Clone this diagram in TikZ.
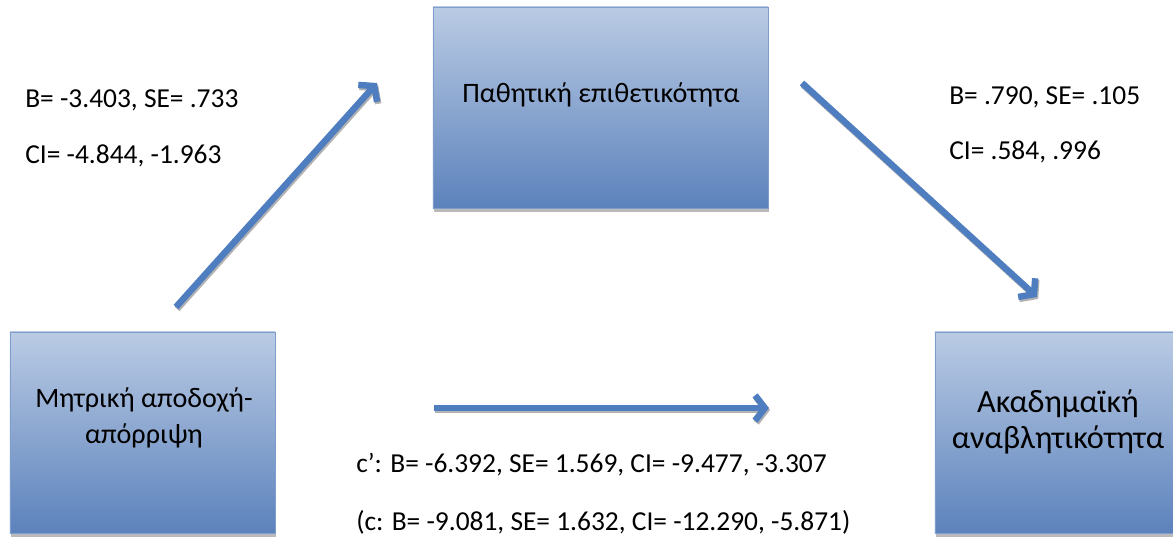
\documentclass[tikz,border=0pt]{standalone}
\usepackage{fontspec}
\setmainfont{Carlito}
\usepackage{xcolor}
\usetikzlibrary{arrows.meta,shadows}

\definecolor{boxtop}{RGB}{186,203,228}
\definecolor{boxbot}{RGB}{92,130,188}
\definecolor{boxline}{RGB}{126,156,204}
\definecolor{arrblue}{RGB}{79,126,192}

\tikzset{
  varbox/.style={draw=boxline, line width=0.6pt, top color=boxtop, bottom color=boxbot,
    drop shadow={shadow xshift=0.6pt, shadow yshift=-2.6pt, fill=black!45, opacity=0.6},
    inner sep=0pt, minimum height=5.025cm},
  patharrow/.style={draw=arrblue, line width=4.6pt, -{Straight Barb[length=7pt,width=18pt]},
    preaction={draw=gray!60, line width=4.6pt, transform canvas={shift={(0.8pt,-1.4pt)}}}},
  stat/.style={anchor=base west, inner sep=0pt, font=\fontsize{19.5}{23}\selectfont},
  boxtxt/.style={anchor=base, inner sep=0pt, font=\fontsize{20}{24}\selectfont}
}

\begin{document}
\begin{tikzpicture}[x=0.025cm,y=-0.025cm]
\useasboundingbox (0,0) rectangle (1173,542);

% Riquadri
\node[varbox, minimum width=8.375cm] (pth) at (600.5,107.5) {};
\node[varbox, minimum width=6.625cm] (mam) at (142.5,432.5) {};
\node[varbox, minimum width=6.15cm] (aka) at (1058,432.5) {};

% Testo nei riquadri
\node[boxtxt] (pthT) at (601,102) {Παθητική επιθετικότητα};
\node[boxtxt] (mam1) at (144,407) {Μητρική αποδοχή-};
\node[boxtxt] (mam2) at (144,443) {απόρριψη};
\node[boxtxt, font=\fontsize{23}{27}\selectfont] (aka1) at (1058,412) {Ακαδημαϊκή};
\node[boxtxt, font=\fontsize{23}{27}\selectfont] (aka2) at (1058,448) {αναβλητικότητα};

% Frecce
\coordinate (a1) at (176,307);
\coordinate (a2) at (377,83);
\coordinate (b1) at (802,83);
\coordinate (b2) at (1037,297);
\coordinate (c1) at (434,408);
\coordinate (c2) at (769,408);
\draw[patharrow] (a1) -- (a2);
\draw[patharrow] (b1) -- (b2);
\draw[patharrow] (c1) -- (c2);

% Etichette
\node[stat] (ab1) at (25,107) {B= -3.403, SE= .733};
\node[stat] (ab2) at (25,163) {CI= -4.844, -1.963};
\node[stat] (bc1) at (949,104) {B= .790, SE= .105};
\node[stat] (bc2) at (949,159) {CI= .584, .996};
\node[stat] (cp1) at (356,472) {c’: B= -6.392, SE= 1.569, CI= -9.477, -3.307};
\node[stat] (cp2) at (356,530) {(c: B= -9.081, SE= 1.632, CI= -12.290, -5.871)};
\end{tikzpicture}
\end{document}
